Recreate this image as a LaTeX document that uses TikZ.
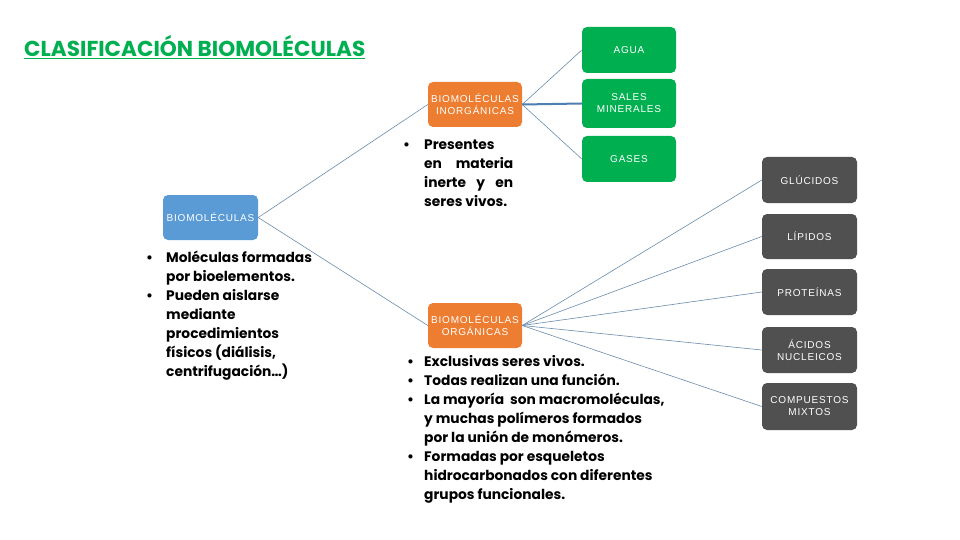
\documentclass[tikz,border=0pt]{standalone}
\usepackage{fontspec}
\usepackage{array}
\setmainfont{Poppins}
\newfontfamily\boxfont[LetterSpace=8]{Liberation Sans}
\definecolor{bluebox}{HTML}{5B9BD5}
\definecolor{orangebox}{HTML}{ED7D31}
\definecolor{greenbox}{HTML}{00B050}
\definecolor{graybox}{HTML}{505050}
\definecolor{linecol}{HTML}{6A8CAF}
\definecolor{thickcol}{HTML}{4F7FB0}
\definecolor{titlecol}{HTML}{00B050}
\newcommand{\bodyfont}{\bfseries\fontsize{13.8}{19}\selectfont}
\begin{document}
\begin{tikzpicture}[x=1pt,y=-1pt,
  box/.style={rounded corners=5pt, text=white, align=center, inner sep=0pt,
    font=\boxfont\fontsize{10}{12}\selectfont},
  bluest/.style={box, fill=bluebox, minimum width=95pt, minimum height=45pt},
  orangest/.style={box, fill=orangebox, minimum width=94pt, minimum height=45pt},
  greenst/.style={box, fill=greenbox, minimum width=94pt},
  grayst/.style={box, fill=graybox, minimum width=95pt},
  conn/.style={draw=linecol, line width=0.6pt},
  thickconn/.style={draw=thickcol, line width=2pt},
  body/.style={anchor=north west, inner sep=0pt, font=\bodyfont}
]
\useasboundingbox (0,0) rectangle (960,540);
\fill[white] (0,0) rectangle (960,540);

% title
\node[anchor=west, inner sep=0pt, text=titlecol, font=\bfseries\fontsize{21.6}{24}\selectfont]
  (title) at (24,47.5) {\underline{CLASIFICACIÓN BIOMOLÉCULAS}};

% boxes
\node[bluest] (bio) at (210.5,217.5) {BIOMOLÉCULAS};
\node[orangest] (inorg) at (475,104.5) {BIOMOLÉCULAS\\INORGÁNICAS};
\node[orangest] (org) at (475,325.5) {BIOMOLÉCULAS\\ORGÁNICAS};

\node[greenst, minimum height=46pt] (agua) at (629,50) {AGUA};
\node[greenst, minimum height=49pt] (sales) at (629,103.5) {SALES\\MINERALES};
\node[greenst, minimum height=46pt] (gases) at (629,159) {GASES};

\node[grayst, minimum height=46pt] (gluc) at (809.5,180) {GLÚCIDOS};
\node[grayst, minimum height=45pt] (lip) at (809.5,236.5) {LÍPIDOS};
\node[grayst, minimum height=46pt] (prot) at (809.5,292) {PROTEÍNAS};
\node[grayst, minimum height=46pt] (acid) at (809.5,350) {ÁCIDOS\\NUCLEICOS};
\node[grayst, minimum height=47pt] (comp) at (809.5,406.5) {COMPUESTOS\\MIXTOS};

% connectors
\draw[conn] (bio.east) -- (inorg.west);
\draw[conn] (bio.east) -- (org.west);
\draw[conn] (inorg.east) -- (agua.west);
\draw[thickconn] (inorg.east) -- (sales.west);
\draw[conn] (inorg.east) -- (gases.west);
\foreach \t in {gluc,lip,prot,acid,comp}
  \draw[conn] (org.east) -- (\t.west);

% left text
\node[body] (biotext) at (146,248.5) {\begin{tabular}{@{}p{20pt}@{}l@{}}
• & Moléculas formadas\\
  & por bioelementos.\\
• & Pueden aislarse\\
  & mediante\\
  & procedimientos\\
  & físicos (diálisis,\\
  & centrifugación…)
\end{tabular}};

% inorganic text
\node[body] (inorgtext) at (403,135.5) {\begin{tabular}{@{}p{21pt}@{}l@{}}
• & Presentes\\
  & \makebox[89pt][s]{en materia}\\
  & \makebox[89pt][s]{inerte y en}\\
  & seres vivos.
\end{tabular}};

% organic text
\node[body] (orgtext) at (407,352.5) {\begin{tabular}{@{}p{17pt}@{}l@{}}
• & Exclusivas seres vivos.\\
• & Todas realizan una función.\\
• & La mayoría\ \ son macromoléculas,\\
  & y muchas polímeros formados\\
  & por la unión de monómeros.\\
• & Formadas por esqueletos\\
  & hidrocarbonados con diferentes\\
  & grupos funcionales.
\end{tabular}};
\end{tikzpicture}
\end{document}
